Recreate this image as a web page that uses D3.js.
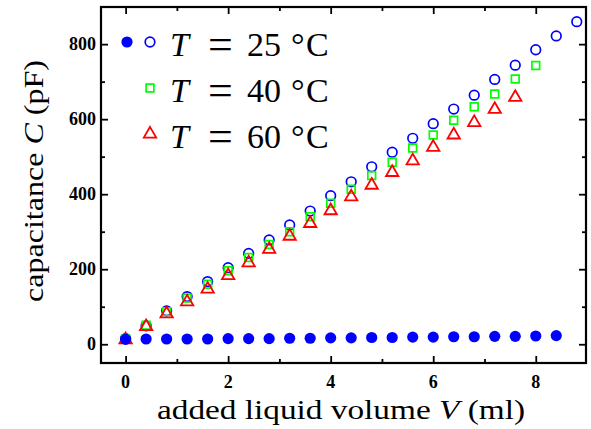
<!DOCTYPE html>
<html>
<head>
<meta charset="utf-8">
<script src="https://cdn.jsdelivr.net/npm/d3@7"></script>
<style>
  body { margin: 0; background: #fff; }
  svg { display: block; }
</style>
</head>
<body>
<svg id="svg"></svg>
<script>
const width = 591;
const height = 429;
const margin = { top: 7, right: 5, bottom: 66, left: 101 };

// added volume (ml) for each series
const volumes25 = [0, 0.4, 0.8, 1.2, 1.6, 2.0, 2.4, 2.8, 3.2, 3.6, 4.0, 4.4, 4.8, 5.2, 5.6, 6.0, 6.4, 6.8, 7.2, 7.6, 8.0, 8.4, 8.8];
const cap25 = [15, 49, 89, 127, 167, 204, 242, 278, 318, 355, 396, 433, 473, 512, 549, 588, 627, 664, 706, 744, 785, 822, 860];

const volumes40 = [0, 0.4, 0.8, 1.2, 1.6, 2.0, 2.4, 2.8, 3.2, 3.6, 4.0, 4.4, 4.8, 5.2, 5.6, 6.0, 6.4, 6.8, 7.2, 7.6, 8.0];
const cap40 = [14, 51, 87, 123, 160, 196, 231, 266, 300, 340, 376, 413, 450, 485, 523, 558, 597, 633, 667, 707, 743];

const volumes60 = [0, 0.4, 0.8, 1.2, 1.6, 2.0, 2.4, 2.8, 3.2, 3.6, 4.0, 4.4, 4.8, 5.2, 5.6, 6.0, 6.4, 6.8, 7.2, 7.6];
const cap60 = [12, 47, 81, 113, 147, 183, 217, 253, 288, 322, 356, 393, 424, 458, 489, 525, 558, 591, 626, 658];

// filled circles (25 C, empty cell)
const volumesRef = [0, 0.4, 0.8, 1.2, 1.6, 2.0, 2.4, 2.8, 3.2, 3.6, 4.0, 4.4, 4.8, 5.2, 5.6, 6.0, 6.4, 6.8, 7.2, 7.6, 8.0, 8.4];
const capRef = [13, 14, 14, 14, 14, 15, 15, 15, 16, 16, 17, 17, 18, 18, 19, 19, 20, 20, 21, 21, 22, 23];

const xTicks = [0, 2, 4, 6, 8];
const xMinor = [1, 3, 5, 7];
const yTicks = [0, 200, 400, 600, 800];
const yMinor = [100, 300, 500, 700];

const legendLabels = ["25", "40", "60"];

const blue = "#0000ff", green = "#00ff00", red = "#ff0000";
const serif = "'Liberation Serif', 'Times New Roman', serif";

const svg = d3.select("#svg")
    .attr("width", width)
    .attr("height", height)
    .attr("viewBox", [0, 0, width, height]);

const xScale = d3.scaleLinear()
    .domain([-0.48, 8.98])
    .range([margin.left, width - margin.right]);

const yScale = d3.scaleLinear()
    .domain([-50, 899])
    .range([height - margin.bottom, margin.top]);

const x0 = margin.left, x1 = width - margin.right;
const y0 = height - margin.bottom, y1 = margin.top;

// ticks point inward on all four sides
function tickAxis(axisFn, scale, values, size, transform) {
    svg.append("g")
        .attr("transform", transform)
        .call(axisFn(scale).tickValues(values).tickSizeInner(-size).tickSizeOuter(0).tickFormat(""))
        .call(g => g.select(".domain").remove())
        .call(g => g.selectAll("line").attr("stroke", "#000").attr("stroke-width", 1.8));
}
tickAxis(d3.axisBottom, xScale, xTicks, 7, `translate(0,${y0})`);
tickAxis(d3.axisBottom, xScale, xMinor, 4, `translate(0,${y0})`);
tickAxis(d3.axisTop, xScale, xTicks, 7, `translate(0,${y1})`);
tickAxis(d3.axisTop, xScale, xMinor, 4, `translate(0,${y1})`);
tickAxis(d3.axisLeft, yScale, yTicks, 7, `translate(${x0},0)`);
tickAxis(d3.axisLeft, yScale, yMinor, 4, `translate(${x0},0)`);
tickAxis(d3.axisRight, yScale, yTicks, 7, `translate(${x1},0)`);
tickAxis(d3.axisRight, yScale, yMinor, 4, `translate(${x1},0)`);

svg.append("rect")
    .attr("x", x0).attr("y", y1)
    .attr("width", x1 - x0).attr("height", y0 - y1)
    .attr("fill", "none")
    .attr("stroke", "#000")
    .attr("stroke-width", 2.2);

// tick labels
svg.append("g")
    .selectAll("text")
    .data(xTicks)
    .enter()
    .append("text")
        .attr("x", d => xScale(d))
        .attr("y", y0 + 25)
        .attr("text-anchor", "middle")
        .attr("font-family", serif)
        .attr("font-weight", "bold")
        .attr("font-size", "18px")
        .text(d => d);

svg.append("g")
    .selectAll("text")
    .data(yTicks)
    .enter()
    .append("text")
        .attr("x", x0 - 5)
        .attr("y", d => yScale(d))
        .attr("dy", "0.34em")
        .attr("text-anchor", "end")
        .attr("font-family", serif)
        .attr("font-weight", "bold")
        .attr("font-size", "18px")
        .text(d => d);

// axis titles, stretched a little to get the wide LaTeX look
const xLabel = svg.append("text")
    .attr("x", 157)
    .attr("y", height - 10)
    .attr("font-family", serif)
    .attr("font-size", "27px")
    .attr("textLength", 368)
    .attr("lengthAdjust", "spacingAndGlyphs");
xLabel.append("tspan").text("added liquid volume ");
xLabel.append("tspan").attr("font-style", "italic").text("V");
xLabel.append("tspan").text("  (ml)");

const yLabel = svg.append("text")
    .attr("transform", "rotate(-90)")
    .attr("x", -302)
    .attr("y", 43)
    .attr("font-family", serif)
    .attr("font-size", "27px")
    .attr("textLength", 242)
    .attr("lengthAdjust", "spacingAndGlyphs");
yLabel.append("tspan").text("capacitance ");
yLabel.append("tspan").attr("font-style", "italic").text("C");
yLabel.append("tspan").text("  (pF)");

// data markers
const pts = (xs, ys) => xs.map((v, i) => [v, ys[i]]);

svg.append("g")
    .selectAll("circle")
    .data(pts(volumes25, cap25))
    .enter()
    .append("circle")
        .attr("cx", d => xScale(d[0]))
        .attr("cy", d => yScale(d[1]))
        .attr("r", 4.8)
        .attr("fill", "none")
        .attr("stroke", blue)
        .attr("stroke-width", 1.7);

const squareSym = d3.symbol().type(d3.symbolSquare).size(60);
svg.append("g")
    .selectAll("path")
    .data(pts(volumes40, cap40))
    .enter()
    .append("path")
        .attr("d", squareSym)
        .attr("transform", d => `translate(${xScale(d[0])},${yScale(d[1])})`)
        .attr("fill", "none")
        .attr("stroke", green)
        .attr("stroke-width", 1.7);

const triSym = d3.symbol().type(d3.symbolTriangle).size(66);
svg.append("g")
    .selectAll("path")
    .data(pts(volumes60, cap60))
    .enter()
    .append("path")
        .attr("d", triSym)
        .attr("transform", d => `translate(${xScale(d[0])},${yScale(d[1])})`)
        .attr("fill", "none")
        .attr("stroke", red)
        .attr("stroke-width", 1.8);

svg.append("g")
    .selectAll("circle")
    .data(pts(volumesRef, capRef))
    .enter()
    .append("circle")
        .attr("cx", d => xScale(d[0]))
        .attr("cy", d => yScale(d[1]))
        .attr("r", 5.6)
        .attr("fill", blue);

// legend
const legendY = [42, 88, 134];
const lx = 150;
svg.append("circle").attr("cx", 127).attr("cy", legendY[0]).attr("r", 5.6).attr("fill", blue);
svg.append("circle").attr("cx", lx).attr("cy", legendY[0]).attr("r", 4.8)
    .attr("fill", "none").attr("stroke", blue).attr("stroke-width", 1.7);
svg.append("path").attr("d", squareSym).attr("transform", `translate(${lx},${legendY[1]})`)
    .attr("fill", "none").attr("stroke", green).attr("stroke-width", 1.7);
svg.append("path").attr("d", triSym).attr("transform", `translate(${lx},${legendY[2]})`)
    .attr("fill", "none").attr("stroke", red).attr("stroke-width", 1.8);

legendLabels.forEach((t, i) => {
    const txt = svg.append("text")
        .attr("y", legendY[i] + 14)
        .attr("font-family", serif)
        .attr("font-size", "34px");
    txt.append("tspan").attr("x", 170).attr("font-style", "italic").text("T");
    txt.append("tspan").attr("x", 208).attr("font-size", "44px").attr("dy", 3).text("=");
    txt.append("tspan").attr("x", 247).attr("font-size", "34px").attr("dy", -3).text(t);
    txt.append("tspan").attr("x", 291).text("°");
    txt.append("tspan").attr("x", 306).text("C");
});
</script>
</body>
</html>
